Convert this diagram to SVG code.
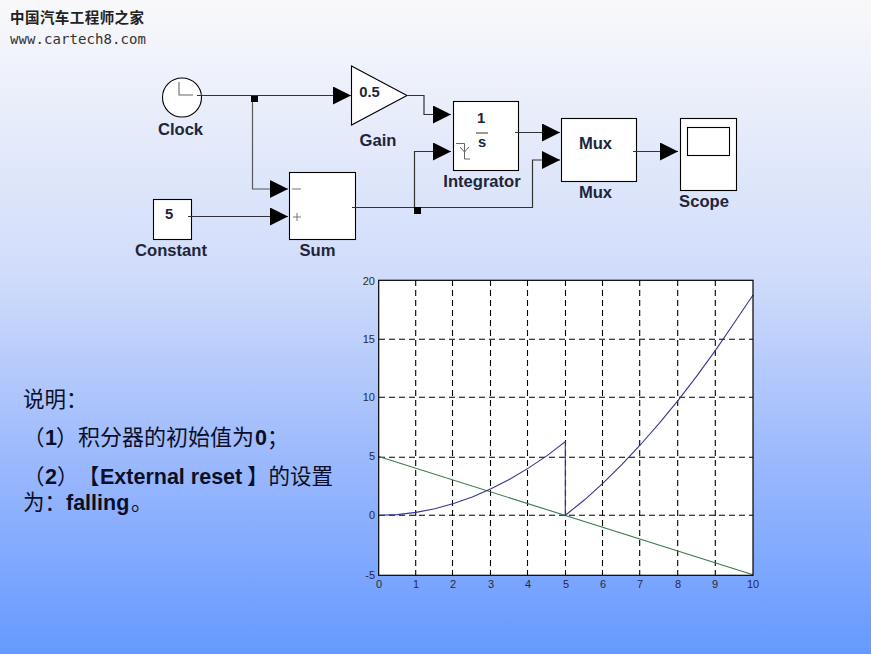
<svg xmlns="http://www.w3.org/2000/svg" width="871" height="654" viewBox="0 0 871 654">
<style>
.lbl{font-family:"Liberation Sans",Arial,"Noto Sans CJK SC",sans-serif;font-weight:700;font-size:16.600px;fill:#20253a;text-anchor:middle}
.val{font-family:"Liberation Sans",Arial,sans-serif;font-weight:700;font-size:14.800px;fill:#20253a;text-anchor:middle}
.blk{fill:#fff;stroke:#000;stroke-width:1.100}
.wire{fill:none;stroke:#333;stroke-width:1.200}
.grid{fill:none;stroke:#000;stroke-width:1.100;stroke-dasharray:6 4}
.tick{font-family:"Liberation Sans",Arial,sans-serif;font-size:11px;fill:#2a2a35}
.note{font-family:"Liberation Sans","Noto Sans CJK SC",sans-serif;font-weight:700;font-size:21.500px;fill:#0a0f28}
.cjk{font-family:"Noto Sans CJK SC",sans-serif;font-weight:400;font-size:21.500px;fill:#0a0f28;text-spacing-trim:space-all}
</style>
<defs>
<linearGradient id="bg" x1="0" y1="0" x2="0" y2="1">
<stop offset="0" stop-color="#f9f9fa"/>
<stop offset="0.42" stop-color="#d0dcfa"/>
<stop offset="0.7" stop-color="#9cb9fd"/>
<stop offset="1" stop-color="#6699ff"/>
</linearGradient>
<marker id="arr" markerUnits="userSpaceOnUse" markerWidth="18" markerHeight="18" refX="18" refY="9" orient="auto"><path d="M0 0L18 9L0 18Z" fill="#000"/></marker>
</defs>
<rect id="background" width="871" height="654" fill="url(#bg)"/>
<g id="watermark">
<text x="10" y="23" font-family="'Noto Sans CJK SC',sans-serif" font-weight="700" font-size="14.500" fill="#222" textLength="134">中国汽车工程师之家</text>
<text x="10" y="44" font-family="'DejaVu Sans Mono',monospace" font-size="14" fill="#333" textLength="136">www.cartech8.com</text>
</g>
<g id="clock">
<circle cx="182" cy="97.500" r="19.500" class="blk"/>
<path d="M179 82V95H193" fill="none" stroke="#666" stroke-width="1.100"/>
<text x="180.500" y="135" class="lbl">Clock</text>
</g>
<g id="gain">
<path d="M351.500 66L407 95.500L351.500 125Z" class="blk"/>
<text x="369.500" y="97" class="val">0.5</text>
<text x="378" y="146" class="lbl">Gain</text>
</g>
<g id="constant">
<rect x="153.500" y="199.500" width="38" height="40" class="blk"/>
<text x="169" y="219" class="val">5</text>
<text x="171" y="256" class="lbl">Constant</text>
</g>
<g id="sum">
<rect x="289.500" y="172.500" width="66" height="67" class="blk"/>
<path d="M292 189H301M293 217H301M297 213V221" fill="none" stroke="#777" stroke-width="1"/>
<text x="317.500" y="256" class="lbl">Sum</text>
</g>
<g id="integrator">
<rect x="453.500" y="101.500" width="65" height="69" class="blk"/>
<text x="481" y="123" class="val">1</text>
<path d="M476 133H488" stroke="#555" stroke-width="1.200"/>
<text x="482" y="147" class="val">s</text>
<path d="M456 143.500H464.500V159H470M460 147L464.500 152L469 147" fill="none" stroke="#666" stroke-width="1"/>
<text x="482" y="187" class="lbl">Integrator</text>
</g>
<g id="mux">
<rect x="561.500" y="118.500" width="75" height="63" class="blk"/>
<text x="595.500" y="149" class="lbl">Mux</text>
<text x="595.500" y="198" class="lbl">Mux</text>
</g>
<g id="scope">
<rect x="680.500" y="118.500" width="56" height="72" class="blk"/>
<rect x="687.500" y="127.500" width="42" height="28" class="blk"/>
<text x="704" y="207" class="lbl">Scope</text>
</g>
<g id="connectors">
<path class="wire" d="M197 95.500H351" marker-end="url(#arr)"/>
<path class="wire" stroke-opacity="0.8" d="M252.500 96V189H288" marker-end="url(#arr)"/>
<path class="wire" d="M188 216.500H288" marker-end="url(#arr)"/>
<path class="wire" d="M407 95.500H424V114.500H451" marker-end="url(#arr)"/>
<path class="wire" d="M352 207.500H532.500V160H560" marker-end="url(#arr)"/>
<path class="wire" d="M414.500 207.500V151.500H451" marker-end="url(#arr)"/>
<path class="wire" d="M515 132.500H560" marker-end="url(#arr)"/>
<path class="wire" d="M633 151.500H678" marker-end="url(#arr)"/>
<rect x="251" y="96" width="7" height="6" fill="#000"/>
<rect x="414" y="207" width="7" height="7" fill="#000"/>
</g>
<g id="notes">
<text x="23" y="407" class="cjk">说明：</text>
<text x="23" y="445" class="cjk">（<tspan x="45" class="note">1</tspan><tspan x="56" style="font-size:22px">）积分器的初始值为</tspan><tspan x="255" class="note">0</tspan><tspan x="267">；</tspan></text>
<text x="23" y="484" class="cjk">（<tspan x="45" class="note">2</tspan><tspan x="57">）</tspan><tspan x="78">【</tspan><tspan x="100" class="note">External reset</tspan><tspan x="247">】的设置</tspan><tspan x="23" y="510">为：</tspan><tspan x="66" y="510" class="note">falling</tspan><tspan x="131" y="510">。</tspan></text>
</g>
<g id="plot">
<rect x="378.700" y="280.300" width="374.300" height="295" fill="#fff" stroke="none"/>
<path class="grid" d="M415.700 280V575M452.500 280V575M490.500 280V575M527.500 280V575M565.500 280V575M602.500 280V575M639.700 280V575M677.700 280V575M715.300 280V575"/>
<path class="grid" d="M379 339.300H753M379 397.300H753M379 457.300H753M379 515.300H753"/>
<polyline fill="none" stroke="#3c7a4c" stroke-width="1.100" points="378.700,456.500 753,574.800"/>
<polyline fill="none" stroke="#35358f" stroke-width="1.100" points="378.700,515.300 397.400,514.600 416.100,512.400 434.800,508.700 453.600,503.500 472.300,496.900 491,488.700 509.700,479.200 528.400,468.100 547.100,455.600 565.300,441.500 565.300,515.300 584.600,499.800 603.300,482.900 622,464.400 640.700,444.500 659.400,423.100 678.100,400.300 696.900,375.900 715.600,350.100 734.300,322.800 753,295"/>
<rect x="378.700" y="280.300" width="374.300" height="295" fill="none" stroke="#000" stroke-width="1.200"/>
<g class="tick" text-anchor="end">
<text x="375" y="285">20</text><text x="375" y="343">15</text><text x="375" y="401">10</text><text x="375" y="460">5</text><text x="375" y="519">0</text><text x="375" y="579">-5</text>
</g>
<g class="tick" text-anchor="middle">
<text x="379" y="588">0</text><text x="416" y="588">1</text><text x="453" y="588">2</text><text x="491" y="588">3</text><text x="528" y="588">4</text><text x="566" y="588">5</text><text x="603" y="588">6</text><text x="640" y="588">7</text><text x="678" y="588">8</text><text x="715" y="588">9</text><text x="753" y="588">10</text>
</g>
</g>
</svg>
